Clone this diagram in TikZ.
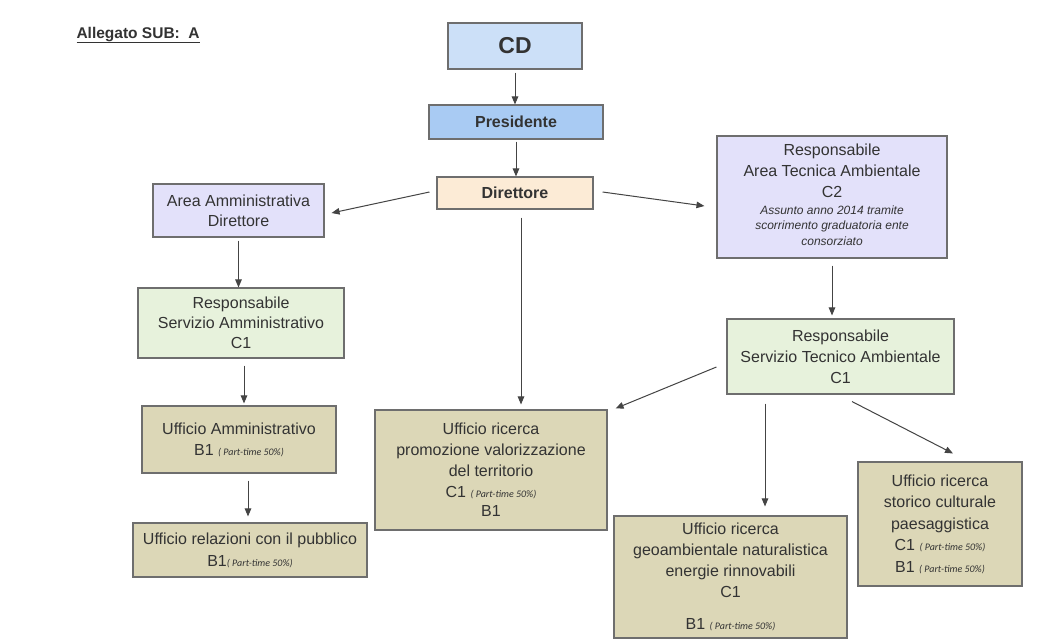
\documentclass[tikz,border=0pt]{standalone}
\usepackage{fontspec}
\setmainfont{Liberation Sans}
\newfontfamily\carlitofont{Carlito}
\usetikzlibrary{arrows.meta,calc}
\definecolor{txt}{HTML}{333333}
\definecolor{bordc}{HTML}{6E6E6E}
\definecolor{linec}{HTML}{444444}
\definecolor{cdfill}{HTML}{CCE0F8}
\definecolor{presfill}{HTML}{A9CBF3}
\definecolor{dirfill}{HTML}{FCEBD6}
\definecolor{lavfill}{HTML}{E3E1FA}
\definecolor{grnfill}{HTML}{E7F2DC}
\definecolor{khafill}{HTML}{DCD7B7}
\newcommand\ptime{{\carlitofont\itshape\fontsize{10}{12}\selectfont( Part-time 50\%)}}
\begin{document}
\begin{tikzpicture}[x=1pt,y=-1pt,
  box/.style={draw=bordc, line width=1.1pt, inner sep=0pt, align=center, text=txt,
    font=\fontsize{16}{21}\selectfont},
  arr/.style={draw=linec, line width=1pt, -{Triangle[length=8pt,width=6.5pt]}}]
\useasboundingbox[fill=white] (0,0) rectangle (1040,642);

\node[text=txt, font=\bfseries\fontsize{15.5}{18}\selectfont, anchor=base west] (title) at (73,38) {\underline{Allegato SUB:\ \ A}};

\node[box, fill=cdfill, minimum width=134pt, minimum height=46pt, font=\bfseries\fontsize{23}{26}\selectfont] (cd) at (515,46) {CD};
\node[box, fill=presfill, minimum width=174pt, minimum height=34pt, font=\bfseries\fontsize{16}{19}\selectfont] (pres) at (516,122) {Presidente};
\node[box, fill=dirfill, minimum width=156pt, minimum height=32pt, font=\bfseries\fontsize{16}{19}\selectfont] (dir) at (515,193) {Direttore};

\node[box, fill=lavfill, minimum width=171pt, minimum height=53pt, font=\fontsize{16}{20}\selectfont] (aa) at (238.5,210.5) {Area Amministrativa\\Direttore};
\node[box, fill=lavfill, minimum width=230pt, minimum height=122pt] (rat) at (832,197)
 {Responsabile\\Area Tecnica Ambientale\\C2\\[-4pt]
  \fontsize{12}{15.5}\selectfont\itshape\begin{tabular}[t]{@{}c@{}}Assunto anno 2014 tramite\\scorrimento graduatoria ente\\consorziato\end{tabular}};

\node[box, fill=grnfill, minimum width=206pt, minimum height=70pt, font=\fontsize{16}{20}\selectfont] (rsa) at (241,323) {Responsabile\\Servizio Amministrativo\\C1};
\node[box, fill=khafill, minimum width=194pt, minimum height=67pt] (ua) at (239,439.5) {Ufficio Amministrativo\\B1 \ptime};
\node[box, fill=khafill, minimum width=234pt, minimum height=54pt, font=\fontsize{16}{22}\selectfont] (ur) at (250,550) {Ufficio relazioni con il pubblico\\B1\ptime};

\node[box, fill=khafill, minimum width=232pt, minimum height=120pt] (prom) at (491,470)
 {Ufficio ricerca\\promozione valorizzazione\\del territorio\\C1 \ptime\\[-2pt]B1};

\node[box, fill=grnfill, minimum width=227pt, minimum height=75pt] (rst) at (840.5,356.5) {Responsabile\\Servizio Tecnico Ambientale\\C1};
\node[box, fill=khafill, minimum width=233pt, minimum height=122pt] (geo) at (730.5,577)
 {Ufficio ricerca\\geoambientale naturalistica\\energie rinnovabili\\C1\\[11pt]B1 \ptime};
\node[box, fill=khafill, minimum width=164pt, minimum height=124pt, font=\fontsize{16}{21.5}\selectfont] (sto) at (940,524)
 {Ufficio ricerca\\storico culturale\\paesaggistica\\C1 \ptime\\B1 \ptime};

% connectors
\draw[arr, shorten <=3pt] (cd.south) -- (cd.south |- pres.north);
\draw[arr, shorten <=2pt] (pres.south) -- (pres.south |- dir.north);
\draw[arr] ($(dir.west)+(-7,-1)$) -- ($(aa.east)+(7,2.5)$);
\draw[arr] ($(dir.east)+(9,-1)$) -- ($(rat.west)+(-12,9)$);
\draw[arr] ($(dir.south)+(6,8)$) -- ($(dir.south |- prom.north)+(6,-5)$);
\draw[arr, shorten <=3pt] (aa.south) -- (aa.south |- rsa.north);
\draw[arr] ($(rsa.south)+(3,7)$) -- ($(rsa.south |- ua.north)+(3,-2)$);
\draw[arr] ($(ua.south)+(9,7)$) -- ($(ua.south |- ur.north)+(9,-6)$);
\draw[arr, shorten <=7pt, shorten >=3pt] (rat.south) -- (rat.south |- rst.north);
\draw[arr] ($(rst.west)+(-10,10.5)$) -- ($(prom.north east)+(8,-1)$);
\draw[arr] ($(rst.south)+(-75.5,9)$) -- ($(geo.north)+(34.5,-9)$);
\draw[arr] ($(rst.south)+(11.5,7)$) -- ($(sto.north)+(13,-8)$);
\end{tikzpicture}
\end{document}
